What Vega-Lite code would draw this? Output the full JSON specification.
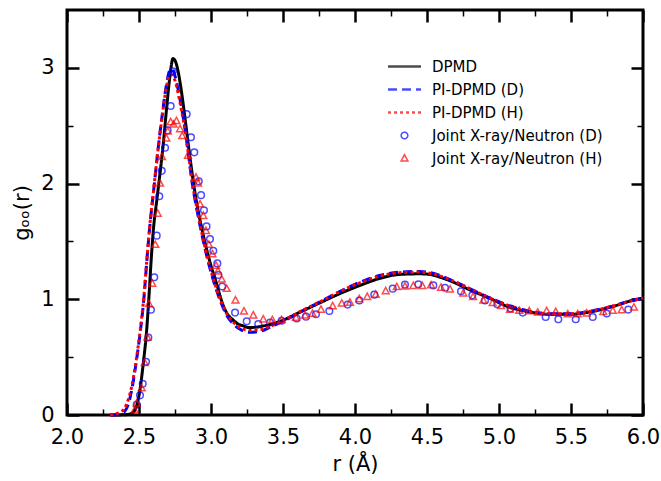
{
  "$schema": "https://vega.github.io/schema/vega-lite/v6.json",
  "width": 576,
  "height": 405,
  "autosize": "none",
  "padding": {"left": 67, "top": 10, "right": 18, "bottom": 66},
  "background": "white",
  "config": {
    "view": {"stroke": "black", "strokeWidth": 3},
    "font": "DejaVu Sans",
    "axis": {
      "domain": false,
      "grid": false,
      "zindex": 1,
      "ticks": true,
      "tickColor": "black",
      "tickOpacity": 1,
      "labelColor": "black",
      "titleColor": "black",
      "labelFont": "DejaVu Sans",
      "titleFont": "DejaVu Sans",
      "labelFontSize": 21,
      "titleFontSize": 21,
      "titleFontWeight": "normal",
      "labelFlush": false,
      "labelOverlap": false
    },
    "legend": {
      "labelFont": "DejaVu Sans",
      "labelFontSize": 15,
      "labelColor": "black",
      "labelLimit": 400,
      "symbolStrokeWidth": 1.5
    }
  },
  "datasets": {
    "curves": [
      {"series": "DPMD", "r": 2.30, "g": 0.0},
      {"series": "DPMD", "r": 2.40, "g": 0.002},
      {"series": "DPMD", "r": 2.44, "g": 0.01},
      {"series": "DPMD", "r": 2.47, "g": 0.04},
      {"series": "DPMD", "r": 2.49, "g": 0.11},
      {"series": "DPMD", "r": 2.507, "g": 0.22},
      {"series": "DPMD", "r": 2.53, "g": 0.45},
      {"series": "DPMD", "r": 2.553, "g": 0.73},
      {"series": "DPMD", "r": 2.569, "g": 1.02},
      {"series": "DPMD", "r": 2.583, "g": 1.31},
      {"series": "DPMD", "r": 2.599, "g": 1.59},
      {"series": "DPMD", "r": 2.623, "g": 1.85},
      {"series": "DPMD", "r": 2.646, "g": 2.09},
      {"series": "DPMD", "r": 2.67, "g": 2.36},
      {"series": "DPMD", "r": 2.69, "g": 2.63},
      {"series": "DPMD", "r": 2.715, "g": 2.93},
      {"series": "DPMD", "r": 2.736, "g": 3.08},
      {"series": "DPMD", "r": 2.755, "g": 3.05},
      {"series": "DPMD", "r": 2.773, "g": 2.96},
      {"series": "DPMD", "r": 2.80, "g": 2.75},
      {"series": "DPMD", "r": 2.82, "g": 2.56},
      {"series": "DPMD", "r": 2.84, "g": 2.36},
      {"series": "DPMD", "r": 2.86, "g": 2.17},
      {"series": "DPMD", "r": 2.88, "g": 1.99},
      {"series": "DPMD", "r": 2.91, "g": 1.77},
      {"series": "DPMD", "r": 2.94, "g": 1.59},
      {"series": "DPMD", "r": 2.97, "g": 1.43},
      {"series": "DPMD", "r": 3.00, "g": 1.29},
      {"series": "DPMD", "r": 3.04, "g": 1.13},
      {"series": "DPMD", "r": 3.07, "g": 1.00},
      {"series": "DPMD", "r": 3.11, "g": 0.88},
      {"series": "DPMD", "r": 3.155, "g": 0.82},
      {"series": "DPMD", "r": 3.19, "g": 0.785},
      {"series": "DPMD", "r": 3.225, "g": 0.77},
      {"series": "DPMD", "r": 3.26, "g": 0.756},
      {"series": "DPMD", "r": 3.32, "g": 0.76},
      {"series": "DPMD", "r": 3.365, "g": 0.77},
      {"series": "DPMD", "r": 3.48, "g": 0.81},
      {"series": "DPMD", "r": 3.62, "g": 0.89},
      {"series": "DPMD", "r": 3.757, "g": 0.97},
      {"series": "DPMD", "r": 3.896, "g": 1.05},
      {"series": "DPMD", "r": 4.035, "g": 1.12},
      {"series": "DPMD", "r": 4.17, "g": 1.18},
      {"series": "DPMD", "r": 4.31, "g": 1.215},
      {"series": "DPMD", "r": 4.45, "g": 1.22},
      {"series": "DPMD", "r": 4.52, "g": 1.215},
      {"series": "DPMD", "r": 4.567, "g": 1.20},
      {"series": "DPMD", "r": 4.66, "g": 1.16},
      {"series": "DPMD", "r": 4.80, "g": 1.08},
      {"series": "DPMD", "r": 4.94, "g": 1.006},
      {"series": "DPMD", "r": 5.076, "g": 0.93},
      {"series": "DPMD", "r": 5.215, "g": 0.89},
      {"series": "DPMD", "r": 5.354, "g": 0.87},
      {"series": "DPMD", "r": 5.49, "g": 0.87},
      {"series": "DPMD", "r": 5.63, "g": 0.89},
      {"series": "DPMD", "r": 5.77, "g": 0.93},
      {"series": "DPMD", "r": 5.956, "g": 1.0},
      {"series": "DPMD", "r": 6.0, "g": 1.01},

      {"series": "PI-DPMD (D)", "r": 2.30, "g": 0.0},
      {"series": "PI-DPMD (D)", "r": 2.34, "g": 0.003},
      {"series": "PI-DPMD (D)", "r": 2.37, "g": 0.01},
      {"series": "PI-DPMD (D)", "r": 2.40, "g": 0.03},
      {"series": "PI-DPMD (D)", "r": 2.43, "g": 0.11},
      {"series": "PI-DPMD (D)", "r": 2.45, "g": 0.22},
      {"series": "PI-DPMD (D)", "r": 2.48, "g": 0.45},
      {"series": "PI-DPMD (D)", "r": 2.51, "g": 0.73},
      {"series": "PI-DPMD (D)", "r": 2.535, "g": 1.02},
      {"series": "PI-DPMD (D)", "r": 2.553, "g": 1.31},
      {"series": "PI-DPMD (D)", "r": 2.572, "g": 1.59},
      {"series": "PI-DPMD (D)", "r": 2.60, "g": 1.92},
      {"series": "PI-DPMD (D)", "r": 2.63, "g": 2.27},
      {"series": "PI-DPMD (D)", "r": 2.66, "g": 2.58},
      {"series": "PI-DPMD (D)", "r": 2.69, "g": 2.85},
      {"series": "PI-DPMD (D)", "r": 2.715, "g": 2.98},
      {"series": "PI-DPMD (D)", "r": 2.73, "g": 2.99},
      {"series": "PI-DPMD (D)", "r": 2.75, "g": 2.93},
      {"series": "PI-DPMD (D)", "r": 2.78, "g": 2.76},
      {"series": "PI-DPMD (D)", "r": 2.81, "g": 2.55},
      {"series": "PI-DPMD (D)", "r": 2.83, "g": 2.38},
      {"series": "PI-DPMD (D)", "r": 2.85, "g": 2.19},
      {"series": "PI-DPMD (D)", "r": 2.87, "g": 2.00},
      {"series": "PI-DPMD (D)", "r": 2.90, "g": 1.79},
      {"series": "PI-DPMD (D)", "r": 2.93, "g": 1.60},
      {"series": "PI-DPMD (D)", "r": 2.96, "g": 1.43},
      {"series": "PI-DPMD (D)", "r": 2.99, "g": 1.28},
      {"series": "PI-DPMD (D)", "r": 3.03, "g": 1.11},
      {"series": "PI-DPMD (D)", "r": 3.07, "g": 0.97},
      {"series": "PI-DPMD (D)", "r": 3.11, "g": 0.86},
      {"series": "PI-DPMD (D)", "r": 3.16, "g": 0.78},
      {"series": "PI-DPMD (D)", "r": 3.21, "g": 0.735},
      {"series": "PI-DPMD (D)", "r": 3.27, "g": 0.715},
      {"series": "PI-DPMD (D)", "r": 3.33, "g": 0.72},
      {"series": "PI-DPMD (D)", "r": 3.42, "g": 0.765},
      {"series": "PI-DPMD (D)", "r": 3.50, "g": 0.81},
      {"series": "PI-DPMD (D)", "r": 3.62, "g": 0.89},
      {"series": "PI-DPMD (D)", "r": 3.76, "g": 0.98},
      {"series": "PI-DPMD (D)", "r": 3.90, "g": 1.07},
      {"series": "PI-DPMD (D)", "r": 4.03, "g": 1.145},
      {"series": "PI-DPMD (D)", "r": 4.17, "g": 1.205},
      {"series": "PI-DPMD (D)", "r": 4.31, "g": 1.235},
      {"series": "PI-DPMD (D)", "r": 4.45, "g": 1.24},
      {"series": "PI-DPMD (D)", "r": 4.57, "g": 1.215},
      {"series": "PI-DPMD (D)", "r": 4.66, "g": 1.17},
      {"series": "PI-DPMD (D)", "r": 4.80, "g": 1.09},
      {"series": "PI-DPMD (D)", "r": 4.94, "g": 1.01},
      {"series": "PI-DPMD (D)", "r": 5.08, "g": 0.94},
      {"series": "PI-DPMD (D)", "r": 5.22, "g": 0.895},
      {"series": "PI-DPMD (D)", "r": 5.35, "g": 0.875},
      {"series": "PI-DPMD (D)", "r": 5.49, "g": 0.875},
      {"series": "PI-DPMD (D)", "r": 5.63, "g": 0.895},
      {"series": "PI-DPMD (D)", "r": 5.77, "g": 0.935},
      {"series": "PI-DPMD (D)", "r": 5.90, "g": 0.98},
      {"series": "PI-DPMD (D)", "r": 6.00, "g": 1.01},

      {"series": "PI-DPMD (H)", "r": 2.30, "g": 0.0},
      {"series": "PI-DPMD (H)", "r": 2.33, "g": 0.005},
      {"series": "PI-DPMD (H)", "r": 2.36, "g": 0.02},
      {"series": "PI-DPMD (H)", "r": 2.40, "g": 0.06},
      {"series": "PI-DPMD (H)", "r": 2.43, "g": 0.15},
      {"series": "PI-DPMD (H)", "r": 2.45, "g": 0.25},
      {"series": "PI-DPMD (H)", "r": 2.48, "g": 0.47},
      {"series": "PI-DPMD (H)", "r": 2.51, "g": 0.75},
      {"series": "PI-DPMD (H)", "r": 2.535, "g": 1.04},
      {"series": "PI-DPMD (H)", "r": 2.553, "g": 1.32},
      {"series": "PI-DPMD (H)", "r": 2.572, "g": 1.60},
      {"series": "PI-DPMD (H)", "r": 2.60, "g": 1.93},
      {"series": "PI-DPMD (H)", "r": 2.63, "g": 2.27},
      {"series": "PI-DPMD (H)", "r": 2.66, "g": 2.57},
      {"series": "PI-DPMD (H)", "r": 2.69, "g": 2.83},
      {"series": "PI-DPMD (H)", "r": 2.71, "g": 2.93},
      {"series": "PI-DPMD (H)", "r": 2.73, "g": 2.94},
      {"series": "PI-DPMD (H)", "r": 2.75, "g": 2.89},
      {"series": "PI-DPMD (H)", "r": 2.78, "g": 2.73},
      {"series": "PI-DPMD (H)", "r": 2.81, "g": 2.53},
      {"series": "PI-DPMD (H)", "r": 2.83, "g": 2.37},
      {"series": "PI-DPMD (H)", "r": 2.85, "g": 2.19},
      {"series": "PI-DPMD (H)", "r": 2.87, "g": 2.01},
      {"series": "PI-DPMD (H)", "r": 2.90, "g": 1.80},
      {"series": "PI-DPMD (H)", "r": 2.93, "g": 1.61},
      {"series": "PI-DPMD (H)", "r": 2.96, "g": 1.44},
      {"series": "PI-DPMD (H)", "r": 2.99, "g": 1.29},
      {"series": "PI-DPMD (H)", "r": 3.03, "g": 1.12},
      {"series": "PI-DPMD (H)", "r": 3.07, "g": 0.98},
      {"series": "PI-DPMD (H)", "r": 3.11, "g": 0.875},
      {"series": "PI-DPMD (H)", "r": 3.16, "g": 0.795},
      {"series": "PI-DPMD (H)", "r": 3.21, "g": 0.75},
      {"series": "PI-DPMD (H)", "r": 3.27, "g": 0.73},
      {"series": "PI-DPMD (H)", "r": 3.33, "g": 0.735},
      {"series": "PI-DPMD (H)", "r": 3.42, "g": 0.77},
      {"series": "PI-DPMD (H)", "r": 3.50, "g": 0.815},
      {"series": "PI-DPMD (H)", "r": 3.62, "g": 0.895},
      {"series": "PI-DPMD (H)", "r": 3.76, "g": 0.98},
      {"series": "PI-DPMD (H)", "r": 3.90, "g": 1.07},
      {"series": "PI-DPMD (H)", "r": 4.03, "g": 1.14},
      {"series": "PI-DPMD (H)", "r": 4.17, "g": 1.20},
      {"series": "PI-DPMD (H)", "r": 4.31, "g": 1.23},
      {"series": "PI-DPMD (H)", "r": 4.45, "g": 1.235},
      {"series": "PI-DPMD (H)", "r": 4.57, "g": 1.21},
      {"series": "PI-DPMD (H)", "r": 4.66, "g": 1.17},
      {"series": "PI-DPMD (H)", "r": 4.80, "g": 1.09},
      {"series": "PI-DPMD (H)", "r": 4.94, "g": 1.01},
      {"series": "PI-DPMD (H)", "r": 5.08, "g": 0.94},
      {"series": "PI-DPMD (H)", "r": 5.22, "g": 0.895},
      {"series": "PI-DPMD (H)", "r": 5.35, "g": 0.875},
      {"series": "PI-DPMD (H)", "r": 5.49, "g": 0.875},
      {"series": "PI-DPMD (H)", "r": 5.63, "g": 0.895},
      {"series": "PI-DPMD (H)", "r": 5.77, "g": 0.935},
      {"series": "PI-DPMD (H)", "r": 5.90, "g": 0.98},
      {"series": "PI-DPMD (H)", "r": 6.00, "g": 1.01}
    ],
    "expt": [
      {"series": "Joint X-ray/Neutron (D)", "r": 2.484, "g": 0.09},
      {"series": "Joint X-ray/Neutron (D)", "r": 2.507, "g": 0.17},
      {"series": "Joint X-ray/Neutron (D)", "r": 2.526, "g": 0.27},
      {"series": "Joint X-ray/Neutron (D)", "r": 2.549, "g": 0.46},
      {"series": "Joint X-ray/Neutron (D)", "r": 2.565, "g": 0.67},
      {"series": "Joint X-ray/Neutron (D)", "r": 2.583, "g": 0.91},
      {"series": "Joint X-ray/Neutron (D)", "r": 2.606, "g": 1.19},
      {"series": "Joint X-ray/Neutron (D)", "r": 2.623, "g": 1.55},
      {"series": "Joint X-ray/Neutron (D)", "r": 2.641, "g": 1.89},
      {"series": "Joint X-ray/Neutron (D)", "r": 2.658, "g": 2.11},
      {"series": "Joint X-ray/Neutron (D)", "r": 2.681, "g": 2.31},
      {"series": "Joint X-ray/Neutron (D)", "r": 2.699, "g": 2.46},
      {"series": "Joint X-ray/Neutron (D)", "r": 2.72, "g": 2.67},
      {"series": "Joint X-ray/Neutron (D)", "r": 2.735, "g": 2.97},
      {"series": "Joint X-ray/Neutron (D)", "r": 2.831, "g": 2.60},
      {"series": "Joint X-ray/Neutron (D)", "r": 2.861, "g": 2.40},
      {"series": "Joint X-ray/Neutron (D)", "r": 2.884, "g": 2.27},
      {"series": "Joint X-ray/Neutron (D)", "r": 2.915, "g": 2.02},
      {"series": "Joint X-ray/Neutron (D)", "r": 2.931, "g": 1.90},
      {"series": "Joint X-ray/Neutron (D)", "r": 2.951, "g": 1.77},
      {"series": "Joint X-ray/Neutron (D)", "r": 2.969, "g": 1.63},
      {"series": "Joint X-ray/Neutron (D)", "r": 2.993, "g": 1.52},
      {"series": "Joint X-ray/Neutron (D)", "r": 3.016, "g": 1.42},
      {"series": "Joint X-ray/Neutron (D)", "r": 3.044, "g": 1.31},
      {"series": "Joint X-ray/Neutron (D)", "r": 3.051, "g": 1.21},
      {"series": "Joint X-ray/Neutron (D)", "r": 3.078, "g": 1.11},
      {"series": "Joint X-ray/Neutron (D)", "r": 3.167, "g": 0.885},
      {"series": "Joint X-ray/Neutron (D)", "r": 3.248, "g": 0.81},
      {"series": "Joint X-ray/Neutron (D)", "r": 3.328, "g": 0.785},
      {"series": "Joint X-ray/Neutron (D)", "r": 3.41, "g": 0.80},
      {"series": "Joint X-ray/Neutron (D)", "r": 3.49, "g": 0.815},
      {"series": "Joint X-ray/Neutron (D)", "r": 3.595, "g": 0.834},
      {"series": "Joint X-ray/Neutron (D)", "r": 3.66, "g": 0.85},
      {"series": "Joint X-ray/Neutron (D)", "r": 3.729, "g": 0.871},
      {"series": "Joint X-ray/Neutron (D)", "r": 3.822, "g": 0.899},
      {"series": "Joint X-ray/Neutron (D)", "r": 3.949, "g": 0.954},
      {"series": "Joint X-ray/Neutron (D)", "r": 4.03, "g": 0.99},
      {"series": "Joint X-ray/Neutron (D)", "r": 4.134, "g": 1.04},
      {"series": "Joint X-ray/Neutron (D)", "r": 4.262, "g": 1.092},
      {"series": "Joint X-ray/Neutron (D)", "r": 4.347, "g": 1.127},
      {"series": "Joint X-ray/Neutron (D)", "r": 4.44, "g": 1.13},
      {"series": "Joint X-ray/Neutron (D)", "r": 4.544, "g": 1.12},
      {"series": "Joint X-ray/Neutron (D)", "r": 4.625, "g": 1.10},
      {"series": "Joint X-ray/Neutron (D)", "r": 4.736, "g": 1.07},
      {"series": "Joint X-ray/Neutron (D)", "r": 4.815, "g": 1.034},
      {"series": "Joint X-ray/Neutron (D)", "r": 4.903, "g": 0.99},
      {"series": "Joint X-ray/Neutron (D)", "r": 4.988, "g": 0.957},
      {"series": "Joint X-ray/Neutron (D)", "r": 5.08, "g": 0.92},
      {"series": "Joint X-ray/Neutron (D)", "r": 5.165, "g": 0.885},
      {"series": "Joint X-ray/Neutron (D)", "r": 5.324, "g": 0.847},
      {"series": "Joint X-ray/Neutron (D)", "r": 5.412, "g": 0.828},
      {"series": "Joint X-ray/Neutron (D)", "r": 5.533, "g": 0.828},
      {"series": "Joint X-ray/Neutron (D)", "r": 5.651, "g": 0.847},
      {"series": "Joint X-ray/Neutron (D)", "r": 5.748, "g": 0.877},
      {"series": "Joint X-ray/Neutron (D)", "r": 5.898, "g": 0.911},

      {"series": "Joint X-ray/Neutron (H)", "r": 2.47, "g": 0.04},
      {"series": "Joint X-ray/Neutron (H)", "r": 2.484, "g": 0.10},
      {"series": "Joint X-ray/Neutron (H)", "r": 2.519, "g": 0.23},
      {"series": "Joint X-ray/Neutron (H)", "r": 2.54, "g": 0.45},
      {"series": "Joint X-ray/Neutron (H)", "r": 2.558, "g": 0.67},
      {"series": "Joint X-ray/Neutron (H)", "r": 2.569, "g": 0.96},
      {"series": "Joint X-ray/Neutron (H)", "r": 2.592, "g": 1.135},
      {"series": "Joint X-ray/Neutron (H)", "r": 2.613, "g": 1.47},
      {"series": "Joint X-ray/Neutron (H)", "r": 2.63, "g": 1.74},
      {"series": "Joint X-ray/Neutron (H)", "r": 2.646, "g": 2.00},
      {"series": "Joint X-ray/Neutron (H)", "r": 2.66, "g": 2.23},
      {"series": "Joint X-ray/Neutron (H)", "r": 2.69, "g": 2.39},
      {"series": "Joint X-ray/Neutron (H)", "r": 2.70, "g": 2.45},
      {"series": "Joint X-ray/Neutron (H)", "r": 2.72, "g": 2.53},
      {"series": "Joint X-ray/Neutron (H)", "r": 2.74, "g": 2.51},
      {"series": "Joint X-ray/Neutron (H)", "r": 2.76, "g": 2.54},
      {"series": "Joint X-ray/Neutron (H)", "r": 2.785, "g": 2.47},
      {"series": "Joint X-ray/Neutron (H)", "r": 2.80, "g": 2.41},
      {"series": "Joint X-ray/Neutron (H)", "r": 2.84, "g": 2.24},
      {"series": "Joint X-ray/Neutron (H)", "r": 2.896, "g": 2.05},
      {"series": "Joint X-ray/Neutron (H)", "r": 2.91, "g": 2.00},
      {"series": "Joint X-ray/Neutron (H)", "r": 2.924, "g": 1.82},
      {"series": "Joint X-ray/Neutron (H)", "r": 2.947, "g": 1.72},
      {"series": "Joint X-ray/Neutron (H)", "r": 2.965, "g": 1.59},
      {"series": "Joint X-ray/Neutron (H)", "r": 2.985, "g": 1.47},
      {"series": "Joint X-ray/Neutron (H)", "r": 3.01, "g": 1.39},
      {"series": "Joint X-ray/Neutron (H)", "r": 3.035, "g": 1.29},
      {"series": "Joint X-ray/Neutron (H)", "r": 3.048, "g": 1.24},
      {"series": "Joint X-ray/Neutron (H)", "r": 3.075, "g": 1.17},
      {"series": "Joint X-ray/Neutron (H)", "r": 3.109, "g": 1.09},
      {"series": "Joint X-ray/Neutron (H)", "r": 3.17, "g": 0.99},
      {"series": "Joint X-ray/Neutron (H)", "r": 3.229, "g": 0.895},
      {"series": "Joint X-ray/Neutron (H)", "r": 3.294, "g": 0.86},
      {"series": "Joint X-ray/Neutron (H)", "r": 3.363, "g": 0.825},
      {"series": "Joint X-ray/Neutron (H)", "r": 3.426, "g": 0.82},
      {"series": "Joint X-ray/Neutron (H)", "r": 3.49, "g": 0.82},
      {"series": "Joint X-ray/Neutron (H)", "r": 3.59, "g": 0.84},
      {"series": "Joint X-ray/Neutron (H)", "r": 3.653, "g": 0.86},
      {"series": "Joint X-ray/Neutron (H)", "r": 3.705, "g": 0.875},
      {"series": "Joint X-ray/Neutron (H)", "r": 3.764, "g": 0.91},
      {"series": "Joint X-ray/Neutron (H)", "r": 3.845, "g": 0.94},
      {"series": "Joint X-ray/Neutron (H)", "r": 3.908, "g": 0.963},
      {"series": "Joint X-ray/Neutron (H)", "r": 3.965, "g": 0.97},
      {"series": "Joint X-ray/Neutron (H)", "r": 4.03, "g": 1.0},
      {"series": "Joint X-ray/Neutron (H)", "r": 4.085, "g": 1.02},
      {"series": "Joint X-ray/Neutron (H)", "r": 4.144, "g": 1.04},
      {"series": "Joint X-ray/Neutron (H)", "r": 4.213, "g": 1.07},
      {"series": "Joint X-ray/Neutron (H)", "r": 4.29, "g": 1.105},
      {"series": "Joint X-ray/Neutron (H)", "r": 4.347, "g": 1.11},
      {"series": "Joint X-ray/Neutron (H)", "r": 4.405, "g": 1.115},
      {"series": "Joint X-ray/Neutron (H)", "r": 4.467, "g": 1.115},
      {"series": "Joint X-ray/Neutron (H)", "r": 4.528, "g": 1.12},
      {"series": "Joint X-ray/Neutron (H)", "r": 4.597, "g": 1.10},
      {"series": "Joint X-ray/Neutron (H)", "r": 4.66, "g": 1.084},
      {"series": "Joint X-ray/Neutron (H)", "r": 4.752, "g": 1.05},
      {"series": "Joint X-ray/Neutron (H)", "r": 4.82, "g": 1.02},
      {"series": "Joint X-ray/Neutron (H)", "r": 4.891, "g": 0.99},
      {"series": "Joint X-ray/Neutron (H)", "r": 4.956, "g": 0.968},
      {"series": "Joint X-ray/Neutron (H)", "r": 5.014, "g": 0.942},
      {"series": "Joint X-ray/Neutron (H)", "r": 5.076, "g": 0.91},
      {"series": "Joint X-ray/Neutron (H)", "r": 5.141, "g": 0.90},
      {"series": "Joint X-ray/Neutron (H)", "r": 5.21, "g": 0.897},
      {"series": "Joint X-ray/Neutron (H)", "r": 5.269, "g": 0.885},
      {"series": "Joint X-ray/Neutron (H)", "r": 5.331, "g": 0.897},
      {"series": "Joint X-ray/Neutron (H)", "r": 5.394, "g": 0.89},
      {"series": "Joint X-ray/Neutron (H)", "r": 5.477, "g": 0.87},
      {"series": "Joint X-ray/Neutron (H)", "r": 5.546, "g": 0.87},
      {"series": "Joint X-ray/Neutron (H)", "r": 5.609, "g": 0.877},
      {"series": "Joint X-ray/Neutron (H)", "r": 5.724, "g": 0.89},
      {"series": "Joint X-ray/Neutron (H)", "r": 5.79, "g": 0.90},
      {"series": "Joint X-ray/Neutron (H)", "r": 5.852, "g": 0.905},
      {"series": "Joint X-ray/Neutron (H)", "r": 5.937, "g": 0.928}
    ]
  },
  "resolve": {"axis": {"x": "independent", "y": "independent"}},
  "layer": [
    {
      "data": {"name": "curves"},
      "transform": [{"filter": "datum.series === 'DPMD'"}],
      "mark": {"type": "line", "strokeWidth": 3, "interpolate": "monotone"},
      "encoding": {
        "x": {
          "field": "r", "type": "quantitative",
          "scale": {"domain": [2, 6], "nice": false, "zero": false},
          "axis": {
            "orient": "bottom", "title": "r (Å)",
            "values": [2, 2.5, 3, 3.5, 4, 4.5, 5, 5.5, 6],
            "format": ".1f",
            "offset": -12, "tickSize": 12, "tickWidth": 2.5,
            "labelPadding": 11, "titlePadding": 6
          }
        },
        "y": {
          "field": "g", "type": "quantitative",
          "scale": {"domain": [0, 3.5], "nice": false},
          "axis": {
            "orient": "left", "title": "gₒₒ(r)",
            "values": [0, 1, 2, 3],
            "format": "d",
            "offset": -12, "tickSize": 12, "tickWidth": 2.5,
            "labelPadding": 13, "titlePadding": 8
          }
        },
        "color": {
          "field": "series", "type": "nominal",
          "scale": {
            "domain": ["DPMD", "PI-DPMD (D)", "PI-DPMD (H)", "Joint X-ray/Neutron (D)", "Joint X-ray/Neutron (H)"],
            "range": ["#000000", "#0000ff", "#ff0000", "#0000ff", "#ff0000"]
          },
          "legend": {
            "title": null, "orient": "none", "legendX": 330, "legendY": 49,
            "labelOffset": 20, "rowPadding": 7, "symbolSize": 121, "labelFontSize": 15, "padding": 0
          }
        },
        "strokeDash": {
          "field": "series", "type": "nominal",
          "scale": {
            "domain": ["DPMD", "PI-DPMD (D)", "PI-DPMD (H)", "Joint X-ray/Neutron (D)", "Joint X-ray/Neutron (H)"],
            "range": [[1, 0], [9, 5], [3, 3], [1, 0], [1, 0]]
          },
          "legend": {
            "title": null, "orient": "none", "legendX": 330, "legendY": 49,
            "labelOffset": 20, "rowPadding": 7, "symbolSize": 121, "labelFontSize": 15, "padding": 0
          }
        }
      }
    },
    {
      "data": {"name": "curves"},
      "transform": [{"filter": "datum.series === 'PI-DPMD (D)'"}],
      "mark": {"type": "line", "strokeWidth": 3, "interpolate": "monotone"},
      "encoding": {
        "x": {
          "field": "r", "type": "quantitative",
          "scale": {"domain": [2, 6], "nice": false, "zero": false},
          "axis": {
            "orient": "bottom", "title": null, "labels": false,
            "values": [2.25, 2.75, 3.25, 3.75, 4.25, 4.75, 5.25, 5.75],
            "offset": -6, "tickSize": 6, "tickWidth": 1.5
          }
        },
        "y": {
          "field": "g", "type": "quantitative",
          "scale": {"domain": [0, 3.5], "nice": false},
          "axis": {
            "orient": "left", "title": null, "labels": false,
            "values": [0.5, 1.5, 2.5],
            "offset": -6, "tickSize": 6, "tickWidth": 1.5
          }
        },
        "color": {
          "field": "series", "type": "nominal",
          "scale": {
            "domain": ["DPMD", "PI-DPMD (D)", "PI-DPMD (H)", "Joint X-ray/Neutron (D)", "Joint X-ray/Neutron (H)"],
            "range": ["#000000", "#0000ff", "#ff0000", "#0000ff", "#ff0000"]
          },
          "legend": {
            "title": null, "orient": "none", "legendX": 330, "legendY": 49,
            "labelOffset": 20, "rowPadding": 7, "symbolSize": 121, "labelFontSize": 15, "padding": 0
          }
        },
        "strokeDash": {
          "field": "series", "type": "nominal",
          "scale": {
            "domain": ["DPMD", "PI-DPMD (D)", "PI-DPMD (H)", "Joint X-ray/Neutron (D)", "Joint X-ray/Neutron (H)"],
            "range": [[1, 0], [9, 5], [3, 3], [1, 0], [1, 0]]
          },
          "legend": {
            "title": null, "orient": "none", "legendX": 330, "legendY": 49,
            "labelOffset": 20, "rowPadding": 7, "symbolSize": 121, "labelFontSize": 15, "padding": 0
          }
        }
      }
    },
    {
      "data": {"name": "curves"},
      "transform": [{"filter": "datum.series === 'PI-DPMD (H)'"}],
      "mark": {"type": "line", "strokeWidth": 3, "interpolate": "monotone"},
      "encoding": {
        "x": {
          "field": "r", "type": "quantitative",
          "scale": {"domain": [2, 6], "nice": false, "zero": false},
          "axis": {
            "orient": "top", "title": null, "labels": false,
            "values": [2, 2.5, 3, 3.5, 4, 4.5, 5, 5.5, 6],
            "offset": -12, "tickSize": 12, "tickWidth": 2.5
          }
        },
        "y": {
          "field": "g", "type": "quantitative",
          "scale": {"domain": [0, 3.5], "nice": false},
          "axis": {
            "orient": "right", "title": null, "labels": false,
            "values": [0, 1, 2, 3],
            "offset": -12, "tickSize": 12, "tickWidth": 2.5
          }
        },
        "color": {
          "field": "series", "type": "nominal",
          "scale": {
            "domain": ["DPMD", "PI-DPMD (D)", "PI-DPMD (H)", "Joint X-ray/Neutron (D)", "Joint X-ray/Neutron (H)"],
            "range": ["#000000", "#0000ff", "#ff0000", "#0000ff", "#ff0000"]
          },
          "legend": {
            "title": null, "orient": "none", "legendX": 330, "legendY": 49,
            "labelOffset": 20, "rowPadding": 7, "symbolSize": 121, "labelFontSize": 15, "padding": 0
          }
        },
        "strokeDash": {
          "field": "series", "type": "nominal",
          "scale": {
            "domain": ["DPMD", "PI-DPMD (D)", "PI-DPMD (H)", "Joint X-ray/Neutron (D)", "Joint X-ray/Neutron (H)"],
            "range": [[1, 0], [9, 5], [3, 3], [1, 0], [1, 0]]
          },
          "legend": {
            "title": null, "orient": "none", "legendX": 330, "legendY": 49,
            "labelOffset": 20, "rowPadding": 7, "symbolSize": 121, "labelFontSize": 15, "padding": 0
          }
        }
      }
    },
    {
      "data": {"name": "expt"},
      "mark": {"type": "point", "filled": false, "size": 121, "strokeWidth": 1.5},
      "encoding": {
        "x": {
          "field": "r", "type": "quantitative",
          "scale": {"domain": [2, 6], "nice": false, "zero": false},
          "axis": {
            "orient": "top", "title": null, "labels": false,
            "values": [2.25, 2.75, 3.25, 3.75, 4.25, 4.75, 5.25, 5.75],
            "offset": -6, "tickSize": 6, "tickWidth": 1.5
          }
        },
        "y": {
          "field": "g", "type": "quantitative",
          "scale": {"domain": [0, 3.5], "nice": false},
          "axis": {
            "orient": "right", "title": null, "labels": false,
            "values": [0.5, 1.5, 2.5],
            "offset": -6, "tickSize": 6, "tickWidth": 1.5
          }
        },
        "color": {
          "field": "series", "type": "nominal",
          "scale": {
            "domain": ["DPMD", "PI-DPMD (D)", "PI-DPMD (H)", "Joint X-ray/Neutron (D)", "Joint X-ray/Neutron (H)"],
            "range": ["#000000", "#0000ff", "#ff0000", "#0000ff", "#ff0000"]
          },
          "legend": {
            "title": null, "orient": "none", "legendX": 330, "legendY": 49,
            "labelOffset": 20, "rowPadding": 7, "symbolSize": 121, "labelFontSize": 15, "padding": 0
          }
        },
        "shape": {
          "field": "series", "type": "nominal",
          "scale": {
            "domain": ["DPMD", "PI-DPMD (D)", "PI-DPMD (H)", "Joint X-ray/Neutron (D)", "Joint X-ray/Neutron (H)"],
            "range": [
              "M-3,-0.1H3M-3,0.1H3",
              "M-3,-0.1H3M-3,0.1H3",
              "M-3,-0.1H3M-3,0.1H3",
              "M0.6,0A0.6,0.6,0,1,1,-0.6,0A0.6,0.6,0,1,1,0.6,0Z",
              "M0,-0.7L0.62,0.45L-0.62,0.45Z"
            ]
          },
          "legend": {
            "title": null, "orient": "none", "legendX": 330, "legendY": 49,
            "labelOffset": 20, "rowPadding": 7, "symbolSize": 121, "labelFontSize": 15, "padding": 0
          }
        }
      }
    }
  ]
}
